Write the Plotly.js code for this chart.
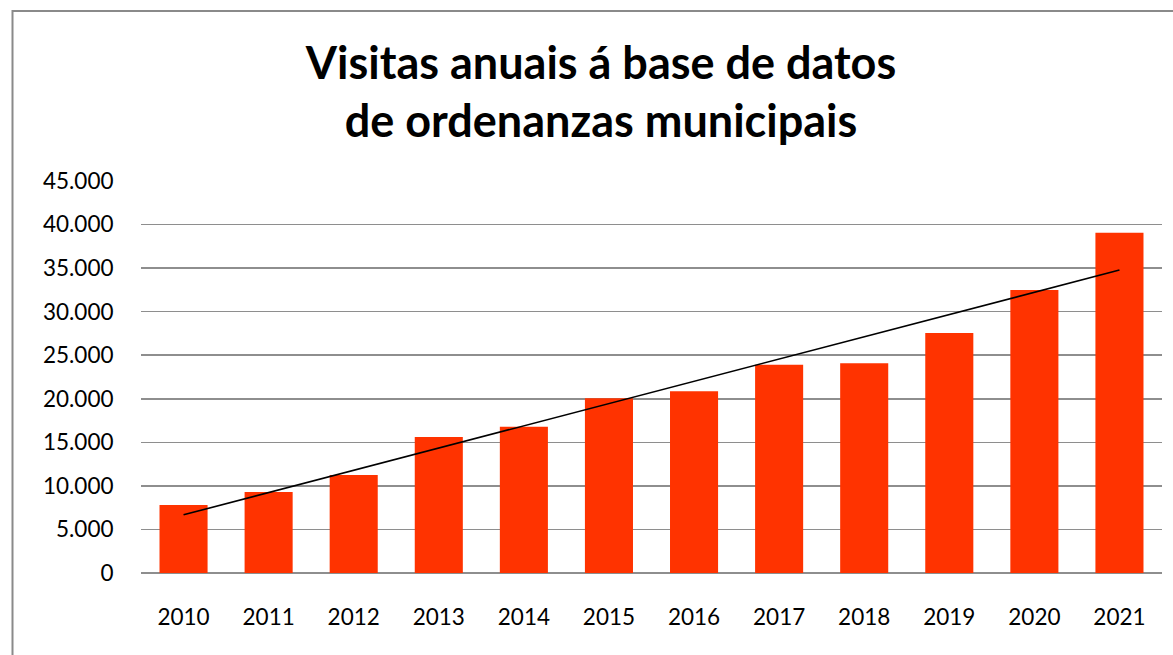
<!DOCTYPE html>
<html>
<head>
<meta charset="utf-8">
<script src="https://cdn.plot.ly/plotly-3.0.1.min.js"></script>
<style>
  html, body { margin: 0; padding: 0; background: #ffffff; }
  #chart { width: 1173px; height: 655px; }
</style>
</head>
<body>
<div id="chart"></div>
<script>
// Data
const years = ['2010','2011','2012','2013','2014','2015','2016','2017','2018','2019','2020','2021'];
const visits = [7820, 9310, 11260, 15600, 16790, 20050, 20870, 23900, 24080, 27550, 32480, 39050];
const yTicks = [0, 5000, 10000, 15000, 20000, 25000, 30000, 35000, 40000, 45000];
const titleText = 'Visitas anuais á base de datos<br>de ordenanzas municipais';

// Linear trend line (least squares over the series)
const n = visits.length;
const xs = visits.map((_, i) => i);
const mx = xs.reduce((a, b) => a + b, 0) / n;
const my = visits.reduce((a, b) => a + b, 0) / n;
let sxy = 0, sxx = 0;
for (let i = 0; i < n; i++) { sxy += (xs[i] - mx) * (visits[i] - my); sxx += (xs[i] - mx) ** 2; }
const slope = sxy / sxx;
const intercept = my - slope * mx;
const trendX = [years[0], years[n - 1]];
const trendY = [intercept, intercept + slope * (n - 1)];

const FONT = 'Lato, "Open Sans", sans-serif';

const traces = [
  {
    type: 'bar',
    x: years,
    y: visits,
    marker: { color: '#FF3300', line: { width: 0 } },
    hoverinfo: 'x+y'
  },
  {
    type: 'scatter',
    mode: 'lines',
    x: trendX,
    y: trendY,
    line: { color: '#000000', width: 1.6 },
    hoverinfo: 'skip'
  }
];

// frame (left and top border of the chart area)
const L = 141, R = 11, T = 181, B = 82, W = 1173, H = 655;
const pw = W - L - R, ph = H - T - B;
const fx = (12.5 - L) / pw;
const fy = (H - B - 11) / ph;

const layout = {
  width: W,
  height: H,
  margin: { l: L, r: R, t: T, b: B, pad: 0 },
  paper_bgcolor: '#ffffff',
  plot_bgcolor: '#ffffff',
  showlegend: false,
  separators: ',.',
  bargap: 0.435,
  title: {
    text: titleText,
    x: 0.5124,
    xanchor: 'center',
    xref: 'container',
    y: 0.88,
    yanchor: 'top',
    yref: 'container',
    font: { family: FONT, size: 45, color: '#000000', weight: 'bold' }
  },
  xaxis: {
    type: 'category',
    showgrid: false,
    showline: false,
    zeroline: false,
    ticks: 'outside',
    ticklen: 24,
    tickcolor: 'rgba(0,0,0,0)',
    tickfont: { family: FONT, size: 22.5, color: '#000000' },
    fixedrange: true
  },
  yaxis: {
    range: [0, 45000],
    tickvals: yTicks,
    tickformat: ',d',
    showgrid: true,
    gridcolor: '#8e8e8e',
    gridwidth: 1.6,
    zeroline: true,
    zerolinecolor: '#8e8e8e',
    zerolinewidth: 1.6,
    showline: false,
    ticks: 'outside',
    ticklen: 22,
    tickcolor: 'rgba(0,0,0,0)',
    tickfont: { family: FONT, size: 22.5, color: '#000000' },
    fixedrange: true
  },
  shapes: [
    {
      type: 'path',
      xref: 'paper', yref: 'paper',
      path: `M ${fx} -0.5 L ${fx} ${fy} L 1.5 ${fy}`,
      line: { color: '#8a8a8a', width: 2 },
      layer: 'below'
    }
  ]
};

Plotly.newPlot('chart', traces, layout, { displayModeBar: false, staticPlot: true });
</script>
</body>
</html>
